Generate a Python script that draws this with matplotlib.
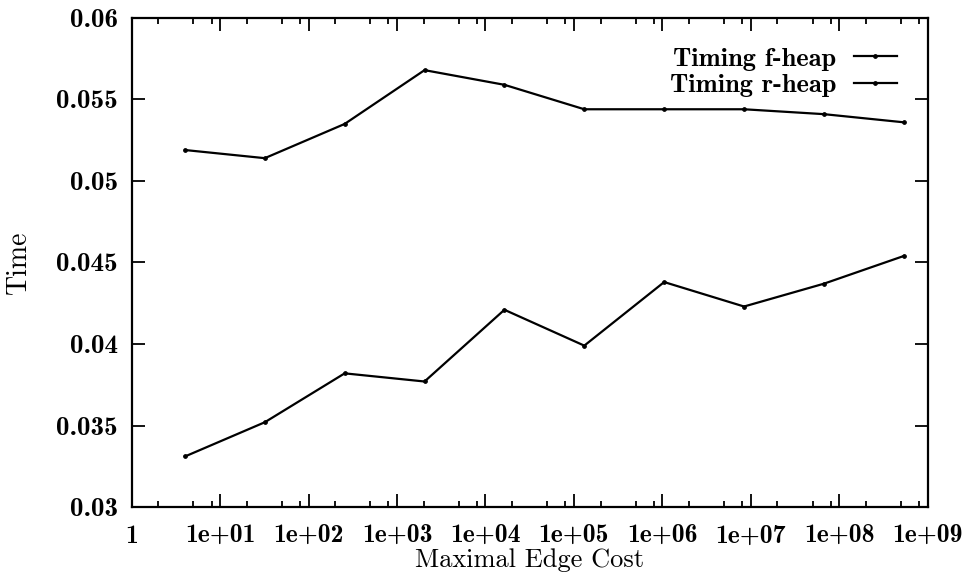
import matplotlib
matplotlib.use("Agg")
import matplotlib.pyplot as plt
from matplotlib.ticker import FixedLocator, FixedFormatter

plt.rcParams["axes.unicode_minus"] = False

# Maximal edge cost (powers of two, stepping by 2^3)
max_edge_cost = [4, 32, 256, 2048, 16384, 131072, 1048576,
                 8388608, 67108864, 536870912]

# Measured running times
timing_f_heap = [0.0519, 0.0514, 0.0535, 0.0568, 0.0559,
                 0.0544, 0.0544, 0.0544, 0.0541, 0.0536]
timing_r_heap = [0.0331, 0.0352, 0.0382, 0.0377, 0.0421,
                 0.0399, 0.0438, 0.0423, 0.0437, 0.0454]

x_ticks = [1, 1e1, 1e2, 1e3, 1e4, 1e5, 1e6, 1e7, 1e8, 1e9]
x_tick_labels = ["1", "1e+01", "1e+02", "1e+03", "1e+04",
                 "1e+05", "1e+06", "1e+07", "1e+08", "1e+09"]
y_ticks = [0.03, 0.035, 0.04, 0.045, 0.05, 0.055, 0.06]
y_tick_labels = ["0.03", "0.035", "0.04", "0.045", "0.05", "0.055", "0.06"]

fig = plt.figure(figsize=(9.71, 5.78), dpi=100)
ax = fig.add_axes([0.1356, 0.1228, 0.8198, 0.8461])

line_kw = dict(color="black", linewidth=1.6, marker="o",
               markersize=2.6, markeredgewidth=0.8)
ax.plot(max_edge_cost, timing_f_heap, label="Timing f-heap", **line_kw)
ax.plot(max_edge_cost, timing_r_heap, label="Timing r-heap", **line_kw)

ax.set_xscale("log")
ax.set_xlim(1, 1e9)
ax.set_ylim(0.03, 0.06)

# major and minor ticks on the x axis
ax.xaxis.set_major_locator(FixedLocator(x_ticks))
ax.xaxis.set_major_formatter(FixedFormatter(x_tick_labels))
minor = [m * 10 ** d for d in range(9) for m in (2, 5, 8)]
ax.xaxis.set_minor_locator(FixedLocator(minor))
ax.yaxis.set_major_locator(FixedLocator(y_ticks))
ax.yaxis.set_major_formatter(FixedFormatter(y_tick_labels))
ax.yaxis.set_minor_locator(FixedLocator([]))

ax.tick_params(which="both", direction="in", top=True, right=True,
               width=1.3, colors="black")
ax.tick_params(which="major", length=9.5)
ax.tick_params(which="minor", length=4.5)
ax.tick_params(axis="x", which="major", pad=13)
ax.tick_params(axis="y", which="major", pad=10)

for lbl in ax.get_xticklabels():
    lbl.set_fontfamily("cmb10")
    lbl.set_fontsize(18.5)
for lbl in ax.get_yticklabels():
    lbl.set_fontfamily("cmb10")
    lbl.set_fontsize(19.5)

for s in ax.spines.values():
    s.set_linewidth(1.6)

ax.set_xlabel("Maximal Edge Cost", fontfamily="cmr10", fontsize=19, labelpad=0)
ax.set_ylabel("Time", fontfamily="cmr10", fontsize=20, labelpad=17)

leg = ax.legend(loc="upper right", frameon=False, markerfirst=False,
                prop={"family": "cmb10", "size": 19},
                handlelength=1.65, handletextpad=0.65, labelspacing=0.12,
                borderaxespad=0.0, bbox_to_anchor=(0.975, 0.962))

fig.savefig("out.png", dpi=100)
